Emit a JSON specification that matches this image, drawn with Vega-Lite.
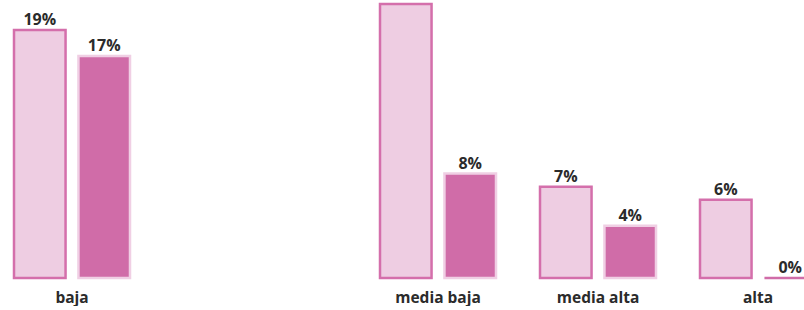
{
  "$schema": "https://vega.github.io/schema/vega-lite/v6.json",
  "autosize": {"type": "pad"},
  "padding": {"left": 12, "top": 0, "right": 0, "bottom": 0},
  "background": "white",
  "spacing": 246,
  "config": {
    "view": {"stroke": null},
    "text": {"font": "Open Sans"},
    "axis": {"labelFont": "Open Sans"}
  },
  "data": {
    "values": [
      {"nivel": "baja", "serie": "Grupo 1", "valor": 0.19},
      {"nivel": "baja", "serie": "Grupo 2", "valor": 0.17},
      {"nivel": "media baja", "serie": "Grupo 1", "valor": 0.21},
      {"nivel": "media baja", "serie": "Grupo 2", "valor": 0.08},
      {"nivel": "media alta", "serie": "Grupo 1", "valor": 0.07},
      {"nivel": "media alta", "serie": "Grupo 2", "valor": 0.04},
      {"nivel": "alta", "serie": "Grupo 1", "valor": 0.06},
      {"nivel": "alta", "serie": "Grupo 2", "valor": 0.0}
    ]
  },
  "hconcat": [
    {
      "width": 116,
      "height": 278,
      "transform": [{"filter": "datum.nivel == 'baja'"}],
      "encoding": {
        "x": {"field": "nivel", "type": "nominal", "sort": ["baja"], "scale": {"paddingInner": 0.275, "paddingOuter": 0},
          "axis": {"title": null, "domain": false, "ticks": false, "labelAngle": 0, "labelFontSize": 15.5, "labelFontWeight": "bold", "labelColor": "#2b2b2b", "labelPadding": 12}},
        "xOffset": {"field": "serie", "type": "nominal", "sort": ["Grupo 1", "Grupo 2"], "scale": {"paddingInner": 0.2, "paddingOuter": 0}},
        "y": {"field": "valor", "type": "quantitative", "scale": {"domain": [0, 0.213], "nice": false, "zero": true}, "axis": null}
      },
      "layer": [
        {
          "mark": {"type": "bar", "strokeWidth": 2.5, "clip": false},
          "encoding": {
            "fill": {"field": "serie", "type": "nominal", "scale": {"domain": ["Grupo 1", "Grupo 2"], "range": ["#EECDE2", "#D06CA8"]}, "legend": null},
            "stroke": {"condition": {"test": "datum.valor == 0", "value": "#D06CA8"}, "field": "serie", "type": "nominal", "scale": {"domain": ["Grupo 1", "Grupo 2"], "range": ["#D46FAB", "#F0CFE4"]}, "legend": null}
          }
        },
        {
          "mark": {"type": "text", "dy": -10, "fontSize": 16, "fontWeight": "bold", "color": "#2b2b2b", "clip": true},
          "encoding": {"text": {"field": "valor", "type": "quantitative", "format": ".0%"}}
        }
      ]
    },
    {
      "width": 436,
      "height": 278,
      "transform": [{"filter": "datum.nivel != 'baja'"}],
      "encoding": {
        "x": {"field": "nivel", "type": "nominal", "sort": ["media baja", "media alta", "alta"], "scale": {"paddingInner": 0.275, "paddingOuter": 0},
          "axis": {"title": null, "domain": false, "ticks": false, "labelAngle": 0, "labelFontSize": 15.5, "labelFontWeight": "bold", "labelColor": "#2b2b2b", "labelPadding": 12}},
        "xOffset": {"field": "serie", "type": "nominal", "sort": ["Grupo 1", "Grupo 2"], "scale": {"paddingInner": 0.2, "paddingOuter": 0}},
        "y": {"field": "valor", "type": "quantitative", "scale": {"domain": [0, 0.213], "nice": false, "zero": true}, "axis": null}
      },
      "layer": [
        {
          "mark": {"type": "bar", "strokeWidth": 2.5, "clip": false},
          "encoding": {
            "fill": {"field": "serie", "type": "nominal", "scale": {"domain": ["Grupo 1", "Grupo 2"], "range": ["#EECDE2", "#D06CA8"]}, "legend": null},
            "stroke": {"condition": {"test": "datum.valor == 0", "value": "#D06CA8"}, "field": "serie", "type": "nominal", "scale": {"domain": ["Grupo 1", "Grupo 2"], "range": ["#D46FAB", "#F0CFE4"]}, "legend": null}
          }
        },
        {
          "mark": {"type": "text", "dy": -10, "fontSize": 16, "fontWeight": "bold", "color": "#2b2b2b", "clip": true},
          "encoding": {"text": {"field": "valor", "type": "quantitative", "format": ".0%"}}
        }
      ]
    }
  ]
}
